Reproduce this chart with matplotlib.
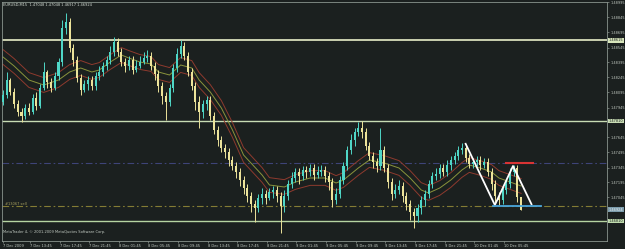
import matplotlib
matplotlib.use('Agg')
import matplotlib.pyplot as plt
import matplotlib.transforms as mtransforms
import numpy as np

plt.rcParams['font.family'] = ['Liberation Sans Narrow', 'DejaVu Sans']

symbol = 'EURUSD,M15'
last_ohlc = ['1.47048', '1.47048', '1.46917', '1.46924']

# candle values in pips above 1.4600, one bar per ~3.7 px of the original chart
opens = [200, 207, 222, 210, 198, 190, 186, 194, 190, 204,
         196, 214, 230, 220, 214, 226, 240, 274, 280, 254,
         242, 224, 212, 218, 222, 216, 226, 230, 236, 242,
         250, 260, 250, 240, 236, 242, 232, 236, 240, 244,
         246, 236, 228, 216, 206, 200, 214, 234, 248, 256,
         246, 230, 216, 200, 190, 198, 202, 186, 172, 162,
         154, 150, 142, 136, 130, 122, 114, 106, 98, 94,
         104, 108, 104, 110, 112, 106, 96, 106, 118, 124,
         130, 126, 132, 130, 134, 127, 130, 132, 126, 120,
         102, 108, 122, 136, 152, 162, 170, 174, 170, 156,
         146, 140, 136, 152, 134, 120, 108, 112, 116, 106,
         98, 90, 86, 94, 102, 108, 118, 126, 128, 134,
         130, 137, 142, 146, 152, 154, 144, 138, 140, 142,
         137, 140, 130, 118, 106, 102, 112, 118, 130, 134,
         105]
closes = [207, 222, 210, 198, 190, 186, 194, 190, 204, 196,
          214, 230, 220, 214, 226, 240, 274, 280, 254, 242,
          224, 212, 218, 222, 216, 226, 230, 236, 242, 250,
          260, 250, 240, 236, 242, 232, 236, 240, 244, 246,
          236, 228, 216, 206, 200, 214, 234, 248, 256, 246,
          230, 216, 200, 190, 198, 202, 186, 172, 162, 154,
          150, 142, 136, 130, 122, 114, 106, 98, 94, 104,
          108, 104, 110, 112, 106, 96, 106, 118, 124, 130,
          126, 132, 130, 134, 127, 130, 132, 126, 120, 102,
          108, 122, 136, 152, 162, 170, 174, 170, 156, 146,
          140, 136, 152, 134, 120, 108, 112, 116, 106, 98,
          90, 86, 94, 102, 108, 118, 126, 128, 134, 130,
          137, 142, 146, 152, 154, 144, 138, 140, 142, 137,
          140, 130, 118, 106, 102, 112, 118, 130, 134, 105,
          92]
highs = [212, 230, 224, 214, 202, 194, 198, 199, 208, 210,
         218, 240, 232, 224, 230, 244, 282, 289, 284, 258,
         246, 228, 222, 226, 226, 230, 236, 240, 246, 256,
         265, 264, 254, 244, 246, 246, 242, 246, 250, 252,
         250, 240, 232, 220, 210, 218, 238, 254, 262, 260,
         250, 234, 220, 206, 202, 206, 206, 190, 176, 166,
         158, 154, 146, 140, 134, 126, 118, 110, 102, 108,
         114, 112, 114, 116, 116, 110, 112, 122, 130, 134,
         134, 136, 136, 138, 138, 136, 137, 136, 130, 124,
         114, 126, 140, 156, 168, 174, 180, 181, 174, 160,
         150, 144, 174, 156, 138, 124, 118, 122, 120, 110,
         102, 94, 98, 106, 112, 122, 130, 134, 138, 138,
         142, 146, 150, 156, 159, 158, 148, 144, 146, 146,
         144, 144, 134, 122, 110, 116, 122, 134, 137, 137,
         105]
lows = [197, 204, 207, 194, 186, 180, 183, 187, 188, 192,
        194, 212, 214, 210, 212, 222, 236, 268, 250, 236,
        220, 207, 210, 212, 212, 212, 222, 226, 232, 238,
        246, 246, 236, 230, 232, 228, 230, 234, 238, 240,
        232, 222, 210, 198, 182, 196, 210, 230, 244, 242,
        226, 212, 192, 174, 184, 192, 182, 168, 156, 150,
        144, 136, 132, 124, 116, 108, 100, 90, 80, 90,
        98, 98, 102, 104, 100, 69, 90, 102, 114, 120,
        118, 122, 124, 126, 122, 124, 126, 120, 112, 95,
        98, 104, 118, 132, 148, 156, 166, 164, 152, 142,
        134, 130, 132, 130, 114, 102, 104, 108, 100, 92,
        82, 74, 80, 88, 96, 104, 114, 122, 124, 126,
        126, 132, 138, 142, 148, 140, 134, 134, 136, 132,
        134, 126, 112, 100, 97, 98, 108, 114, 126, 100,
        92]

# moving average (middle line of the envelope)
ma_bars = [0, 3, 7, 11, 15, 18, 21, 24, 26, 29, 32, 34, 37, 40, 42, 45,
           48, 51, 53, 56, 59, 62, 65, 70, 72, 76, 79, 83, 87, 90, 92, 96,
           99, 103, 107, 110, 113, 115, 118, 121, 124, 126, 129, 132, 134, 137, 140]
ma_pips = [245, 236, 222, 217, 222, 230, 234, 230, 232, 240, 247, 244, 240, 238, 230, 227,
           237, 234, 222, 210, 194, 172, 147, 127, 117, 115, 120, 124, 124, 119, 122, 134,
           142, 139, 134, 124, 112, 109, 114, 122, 132, 137, 134, 130, 124, 120, 116]

# hand-drawn objects: zigzag pattern and two short levels
zz_bars = [124.9, 132.9, 137.8, 142.9]
zz_pips = [159, 97, 136, 97]
red_seg = [136.0, 143.2]
blue_seg = [132.4, 145.4]

level_top = 1.48615
level_mid = 1.47810
level_low = 1.46810
level_tp = 1.47390
level_sell = 1.46960
current = 1.46924

time_labels = ['7 Dec 2009', '7 Dec 13:45', '7 Dec 17:45', '7 Dec 21:45',
               '8 Dec 01:45', '8 Dec 05:45', '8 Dec 09:45', '8 Dec 13:45',
               '8 Dec 17:45', '8 Dec 21:45', '9 Dec 01:45', '9 Dec 05:45',
               '9 Dec 09:45', '9 Dec 13:45', '9 Dec 17:45', '9 Dec 21:45',
               '10 Dec 01:45', '10 Dec 05:45']
price_ticks = [1.48995, 1.48845, 1.48695, 1.48545, 1.48395, 1.48245, 1.48095,
               1.47945, 1.47645, 1.47495, 1.47345, 1.47195, 1.47045]

BASE = 1.4600
o = BASE + np.array(opens) / 10000
c = BASE + np.array(closes) / 10000
h = BASE + np.array(highs) / 10000
l = BASE + np.array(lows) / 10000
idx = np.arange(len(c))

bg = '#1b201f'
bull = '#4fd6c6'
bear = '#ece39a'
fs = 2.6

fig = plt.figure(figsize=(6.25, 2.49), dpi=100, facecolor=bg)
ax = fig.add_axes([2 / 625, 8 / 249, 605 / 625, 239 / 249])
ax.set_facecolor(bg)

# horizontal levels
ax.axhline(level_top, color='#e8eec8', lw=1.2, zorder=1)
ax.axhline(level_mid, color='#c8dcb4', lw=1.0, zorder=1)
ax.axhline(level_low, color='#b6d4a2', lw=1.0, zorder=1)
ax.axhline(level_tp, color='#3e4478', lw=0.8, ls=(0, (6, 2.5, 1.5, 2.5)), zorder=1)
ax.axhline(level_sell, color='#847c34', lw=0.8, ls=(0, (6, 2.5, 1.5, 2.5)), zorder=1)

# envelope around the moving average
ma = BASE + np.array(ma_pips) / 10000
ax.plot(ma_bars, ma * 1.0005, color='#8e3a2e', lw=0.7, zorder=2)
ax.plot(ma_bars, ma, color='#8a943c', lw=0.7, zorder=2)
ax.plot(ma_bars, ma * 0.9995, color='#8e3a2e', lw=0.7, zorder=2)

# candles
colors = np.where(c >= o, bull, bear)
ax.vlines(idx, l, h, colors=colors, lw=0.7, zorder=3)
body = np.where(np.abs(c - o) < 0.00005, 0.00005, c - o)
ax.bar(idx, body, bottom=o, width=0.55, color=colors, linewidth=0, zorder=4)

# drawn objects
zz = BASE + np.array(zz_pips) / 10000
ax.plot(zz_bars, zz, color='white', lw=1.3, zorder=5, solid_capstyle='butt')
ax.plot(red_seg, [level_tp, level_tp], color='#d83434', lw=1.5, zorder=5)
ax.plot(blue_seg, [level_sell, level_sell], color='#4aa6dc', lw=1.3, zorder=5)

ax.text(0.6, level_sell + 0.00004, '#13067 sell', color='#a8a060', fontsize=fs,
        va='bottom', ha='left')

ax.set_xlim(-0.27, 163.2)
ax.set_ylim(1.4661, 1.4900)

# price scale on the right
ax.yaxis.tick_right()
ax.set_yticks(price_ticks)
ax.set_yticklabels([f'{v:.5f}' for v in price_ticks])
ax.tick_params(axis='y', colors='#8a948e', labelcolor='#c4ccc4', length=1.5,
               width=0.5, pad=0.8, labelsize=2.5)

tick_pos = [0] + [7.3 + 8 * k for k in range(len(time_labels) - 1)]
ax.set_xticks(tick_pos)
ax.set_xticklabels(time_labels)
for lbl in ax.get_xticklabels():
    lbl.set_ha('left')
ax.tick_params(axis='x', colors='#8a948e', labelcolor='#c4ccc4', length=1.5,
               width=0.5, pad=1, labelsize=fs)

for s in ax.spines.values():
    s.set_color('#8a948e')
    s.set_linewidth(0.6)

# highlighted price labels
trans = mtransforms.blended_transform_factory(ax.transAxes, ax.transData)
for val, fc, tc in [(level_top, '#d8e6bc', '#1b201f'), (level_mid, '#c8dcb4', '#1b201f'),
                    (current, '#7c9cac', '#e8eef0'), (level_low, '#c0dcae', '#1b201f')]:
    ax.text(1.003, val, f'{val:.5f}', transform=trans, fontsize=2.5, color=tc,
            va='center', ha='left', clip_on=False,
            bbox=dict(boxstyle='square,pad=0.1', fc=fc, ec='none'))

fig.text(3 / 625, 1 - 5 / 249, symbol + '  ' + ' '.join(last_ohlc), color='#d4dcd4',
         fontsize=fs, va='center', ha='left')
fig.text(3 / 625, 1 - 232 / 249, 'MetaTrader 4, © 2001-2009 MetaQuotes Software Corp.',
         color='#c4ccc4', fontsize=fs, va='center', ha='left')

fig.savefig('out.png', dpi=100, facecolor=bg)
